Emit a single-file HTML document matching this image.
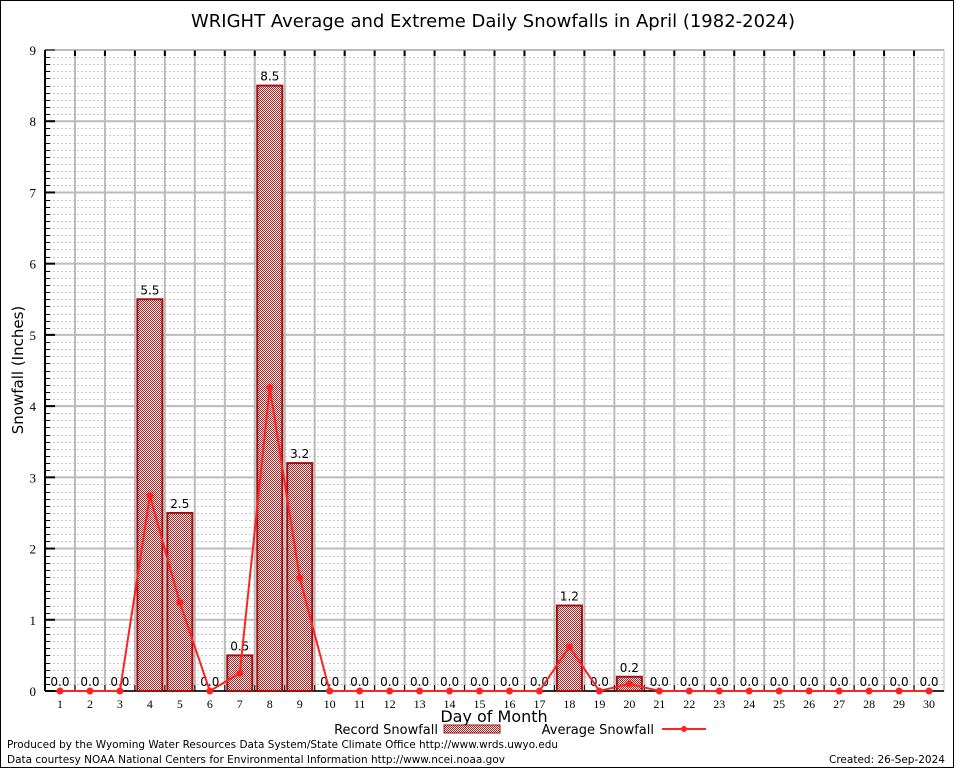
<!DOCTYPE html>
<html><head><meta charset="utf-8"><style>
body{margin:0;background:#fff}
svg{display:block;font-family:"DejaVu Sans","Liberation Sans",sans-serif}
</style></head><body>
<svg id="c" width="954" height="768" viewBox="0 0 954 768">
<defs>
<pattern id="hatch" width="2" height="2" patternUnits="userSpaceOnUse">
<rect width="2" height="2" fill="#fff"/>
<rect width="1" height="1" fill="#a82020"/><rect x="1" y="1" width="1" height="1" fill="#a82020"/>
</pattern>
</defs>
<rect x="0.5" y="0.5" width="953" height="767" fill="#fff" stroke="#000"/>
<text x="493" y="27" font-size="18" text-anchor="middle">WRIGHT Average and Extreme Daily Snowfalls in April (1982-2024)</text>
<g id="grid"></g>
<g id="bars"></g>
<g id="line"></g>
<text x="23" y="370" font-size="15" text-anchor="middle" transform="rotate(-90 23 370)">Snowfall (Inches)</text>
<text x="494" y="722" font-size="16" text-anchor="middle">Day of Month</text>
<g>
<text x="438" y="734" font-size="13" text-anchor="end">Record Snowfall</text>
<rect x="444" y="725" width="56" height="8" fill="url(#hatch)" stroke="#a01010"/>
<text x="654" y="734" font-size="13" text-anchor="end">Average Snowfall</text>
<line x1="662" y1="729" x2="706" y2="729" stroke="#f22" stroke-width="2"/>
<circle cx="684" cy="729" r="3" fill="#f22"/>
</g>
<text x="7" y="748" font-size="11" textLength="551" lengthAdjust="spacingAndGlyphs">Produced by the Wyoming Water Resources Data System/State Climate Office http://www.wrds.uwyo.edu</text>
<text x="7" y="763" font-size="11" textLength="498" lengthAdjust="spacingAndGlyphs">Data courtesy NOAA National Centers for Environmental Information http://www.ncei.noaa.gov</text>
<text x="945" y="763" font-size="11" text-anchor="end" textLength="116" lengthAdjust="spacingAndGlyphs">Created: 26-Sep-2024</text>
</svg>
<script>
const days=[1,2,3,4,5,6,7,8,9,10,11,12,13,14,15,16,17,18,19,20,21,22,23,24,25,26,27,28,29,30];
const recordVals=[0,0,0,5.5,2.5,0,0.5,8.5,3.2,0,0,0,0,0,0,0,0,1.2,0,0.2,0,0,0,0,0,0,0,0,0,0];
const avgVals=[0,0,0,2.74,1.24,0,0.25,4.26,1.59,0,0,0,0,0,0,0,0,0.62,0,0.1,0,0,0,0,0,0,0,0,0,0];
const yTicks=[0,1,2,3,4,5,6,7,8,9];
const NS='http://www.w3.org/2000/svg';
const L=45,R=944,T=50,B=691,yMax=9;
const slot=(R-L)/days.length;
const xC=d=>L+(d-0.5)*slot;
const y=v=>B-(v/yMax)*(B-T);
function mk(tag,attrs,parent){const e=document.createElementNS(NS,tag);for(const k in attrs)e.setAttribute(k,attrs[k]);parent.appendChild(e);return e;}
const g=document.getElementById('grid'),gb=document.getElementById('bars'),gl=document.getElementById('line');
for(let v=0;v<yMax;v+=0.1){const yy=Math.round(y(v))+0.5;if(Math.abs(v-Math.round(v))<1e-6)continue;
const m=mk('line',{x1:L,x2:R,y1:yy,y2:yy,stroke:'#c8c8c8','stroke-dasharray':'2,2','stroke-width':1},g);


const t=mk('line',{x1:L,x2:L+5,y1:yy,y2:yy,stroke:'#000'},g);

}
yTicks.forEach(v=>{const yy=y(v);
const l=mk('line',{x1:L,x2:R,y1:yy,y2:yy,stroke:'#bbb','stroke-width':2},g);


const tk=mk('line',{x1:L,x2:L+10,y1:yy,y2:yy,stroke:'#000','stroke-width':2},g);


const tx=mk('text',{x:36,y:yy+5,'font-size':13,'text-anchor':'end','font-family':'Liberation Serif, serif'},g);tx.textContent=v;

});
days.forEach((d,i)=>{const xb=L+(i+1)*slot;
if(i<days.length-1){const l=mk('line',{x1:xb,x2:xb,y1:T,y2:B,stroke:'#bbb','stroke-width':2},g);


const t1=mk('line',{x1:xb,x2:xb,y1:T,y2:T+6,stroke:'#000','stroke-width':2},g);


const t2=mk('line',{x1:xb,x2:xb,y1:B,y2:B-6,stroke:'#000','stroke-width':1},g);

}
const tx=mk('text',{x:xC(d),y:708,'font-size':12,'text-anchor':'middle','font-family':'Liberation Serif, serif'},g);tx.textContent=d;

});
const fr=mk('rect',{x:L,y:T,width:R-L,height:B-T,fill:'none',stroke:'#bbb','stroke-width':1},g);


const ax=mk('line',{x1:L,x2:L,y1:T,y2:B,stroke:'#000','stroke-width':2},g);


const bx=mk('line',{x1:L,x2:R,y1:B,y2:B,stroke:'#000','stroke-width':1.5},g);


days.forEach((d,i)=>{const v=recordVals[i];
if(v>0){const r=mk('rect',{x:xC(d)-12.5,y:y(v),width:25,height:B-y(v),fill:'url(#hatch)',stroke:'#a01010','stroke-width':2},gb);

}
const t=mk('text',{x:xC(d),y:y(v)-5,'font-size':12,'text-anchor':'middle'},gb);t.textContent=v.toFixed(1);

});
const pts=days.map((d,i)=>xC(d)+','+y(avgVals[i])).join(' ');
const pl=mk('polyline',{points:pts,fill:'none',stroke:'#f22','stroke-width':2},gl);


days.forEach((d,i)=>{const c=mk('circle',{cx:xC(d),cy:y(avgVals[i]),r:3.5,fill:'#f22'},gl);

});
</script>
</body></html>
